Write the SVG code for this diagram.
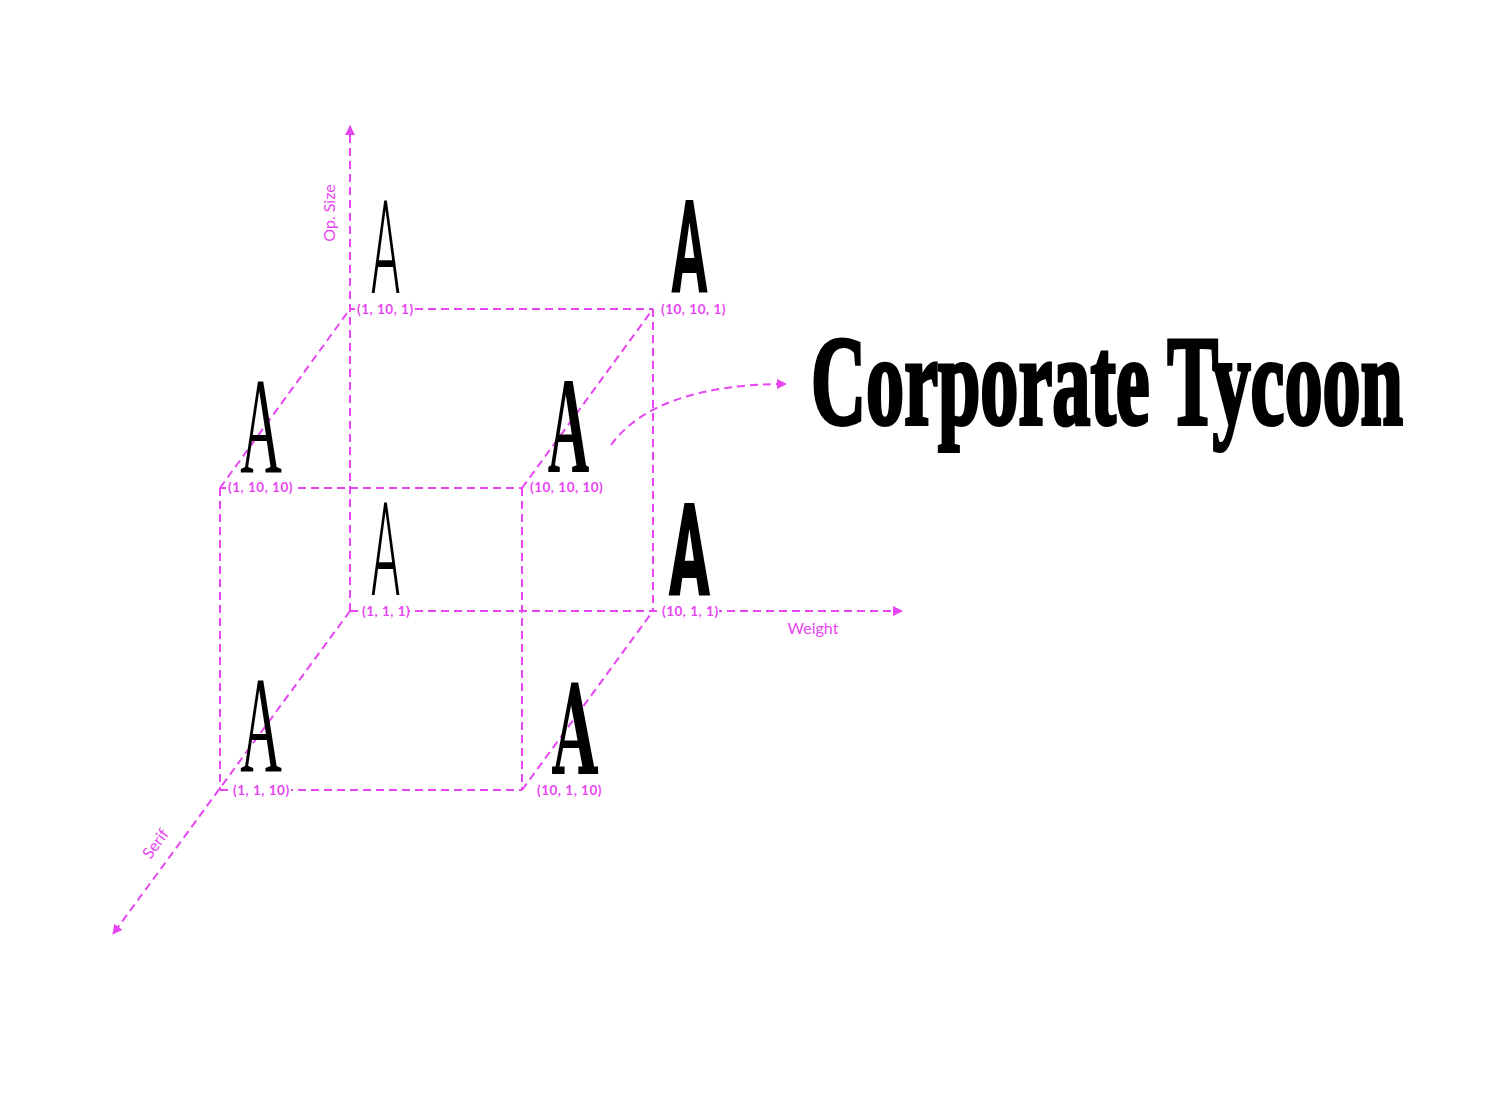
<svg xmlns="http://www.w3.org/2000/svg" width="1498" height="1112" viewBox="0 0 1498 1112">
<style>
.ln{fill:none;stroke:#e845f2;stroke-width:2;stroke-dasharray:8 5}
.lbl{font-family:Lato,"Open Sans",sans-serif;font-weight:700;font-size:13.5px;letter-spacing:0.5px;fill:#e845f2}
.ax{font-family:Lato,"Open Sans",sans-serif;font-size:16px;fill:#e845f2}
.bg{fill:#fff}
.sans{font-family:Roboto,"Liberation Sans",sans-serif;font-size:129px;fill:#000;text-anchor:middle}
.serif{font-family:"Liberation Serif",serif;font-size:137px;fill:#000;text-anchor:middle}
</style>
<defs>
<marker id="ah" viewBox="0 0 10 10" refX="9" refY="5" markerWidth="10" markerHeight="10" markerUnits="userSpaceOnUse" orient="auto">
<path d="M0,0 L10,5 L0,10 z" fill="#e845f2"/>
</marker>
</defs>
<rect width="1498" height="1112" fill="#fff"/>
<g id="connectors">
<line class="ln" x1="350" y1="611" x2="350" y2="126" marker-end="url(#ah)"/>
<line class="ln" x1="350" y1="611" x2="902" y2="611" marker-end="url(#ah)"/>
<line class="ln" x1="350" y1="611" x2="113" y2="934" marker-end="url(#ah)"/>
<line class="ln" x1="350" y1="309" x2="653" y2="309"/>
<line class="ln" x1="653" y1="309" x2="653" y2="611"/>
<line class="ln" x1="220" y1="488" x2="522" y2="488"/>
<line class="ln" x1="220" y1="488" x2="220" y2="790"/>
<line class="ln" x1="522" y1="488" x2="522" y2="790"/>
<line class="ln" x1="220" y1="790" x2="522" y2="790"/>
<line class="ln" x1="220" y1="488" x2="350" y2="309"/>
<line class="ln" x1="522" y1="488" x2="653" y2="309"/>
<line class="ln" x1="522" y1="790" x2="653" y2="611"/>
<path class="ln" d="M611,445 C640,405 700,384 786,384" marker-end="url(#ah)"/>
</g>
<g id="axis-labels">
<text class="ax" transform="translate(335,213) rotate(-90)" text-anchor="middle">Op. Size</text>
<text class="ax" x="813" y="634" text-anchor="middle">Weight</text>
<text class="ax" transform="translate(160,847) rotate(-53.7)" text-anchor="middle">Serif</text>
</g>
<g id="n-1-10-1">
<text class="sans" style="font-weight:300" transform="translate(385.5,293) scale(0.36,1)">A</text>
<rect class="bg" x="355" y="302" width="59" height="15"/>
<text class="lbl" x="357" y="314">(1, 10, 1)</text>
</g>
<g id="n-10-10-1">
<text class="sans" style="font-weight:700" transform="translate(689.5,293) scale(0.42,1)">A</text>
<rect class="bg" x="659" y="302" width="69" height="15"/>
<text class="lbl" x="661" y="314">(10, 10, 1)</text>
</g>
<g id="n-1-10-10">
<text class="serif" transform="translate(261,472) scale(0.42,1)">A</text>
<rect class="bg" x="226" y="480" width="71" height="15"/>
<text class="lbl" x="228" y="492">(1, 10, 10)</text>
</g>
<g id="n-10-10-10">
<text class="serif" style="font-weight:700" transform="translate(568.5,472) scale(0.42,1)">A</text>
<rect class="bg" x="528" y="480" width="79" height="15"/>
<text class="lbl" x="530" y="492">(10, 10, 10)</text>
</g>
<g id="n-1-1-1">
<text class="sans" style="font-weight:300" transform="translate(385.5,595) scale(0.36,1)">A</text>
<rect class="bg" x="360" y="604" width="49" height="15"/>
<text class="lbl" x="362" y="616">(1, 1, 1)</text>
</g>
<g id="n-10-1-1">
<text class="sans" style="font-weight:900" transform="translate(689.5,595) scale(0.47,1)">A</text>
<rect class="bg" x="660" y="604" width="59" height="15"/>
<text class="lbl" x="662" y="616">(10, 1, 1)</text>
</g>
<g id="n-1-1-10">
<text class="serif" transform="translate(261,771) scale(0.42,1)">A</text>
<rect class="bg" x="231" y="783" width="60" height="15"/>
<text class="lbl" x="233" y="795">(1, 1, 10)</text>
</g>
<g id="n-10-1-10">
<text transform="translate(575,774) scale(0.46,1)" style="font-family:'DejaVu Serif',serif;font-weight:700;font-size:126px;fill:#000;text-anchor:middle">A</text>
<rect class="bg" x="535" y="783" width="69" height="15"/>
<text class="lbl" x="537" y="795">(10, 1, 10)</text>
</g>
<g id="title">
<text x="811" y="424" textLength="592" lengthAdjust="spacingAndGlyphs" style="font-family:'Liberation Serif',serif;font-weight:700;font-size:127px;fill:#000;stroke:#000;stroke-width:4">Corporate Tycoon</text>
</g>
</svg>
